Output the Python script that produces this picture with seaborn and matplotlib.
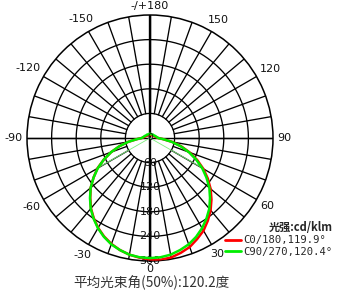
import numpy as np
import pandas as pd
import matplotlib
matplotlib.use("Agg")
import matplotlib.pyplot as plt
import seaborn as sns

# ---------------- data ----------------
angles = [-180, -170, -160, -150, -140, -130, -120, -110, -100,
          -90, -85, -80, -75, -70, -65, -60, -55, -50, -45, -40, -35, -30, -25, -20, -15, -10, -5,
          0, 5, 10, 15, 20, 25, 30, 35, 40, 45, 50, 55, 60, 65, 70, 75, 80, 85, 90,
          100, 110, 120, 130, 140, 150, 160, 170, 180]
red_c0_180 = [8, 8, 8, 8, 8, 9, 10, 12, 14,
              20, 32, 54, 77, 101, 124, 148, 168, 189, 206, 224, 239, 253, 265, 275, 283, 289, 293,
              296, 298, 296, 290, 283, 272, 261, 246, 230, 212, 193, 172, 150, 127, 103, 79, 55, 32, 20,
              14, 12, 10, 9, 8, 8, 8, 8, 8]
green_c90_270 = [10, 10, 10, 10, 11, 11, 12, 14, 16,
                 20, 32, 54, 77, 101, 124, 147, 168, 189, 207, 225, 240, 254, 266, 276, 283, 289, 292,
                 293, 292, 289, 283, 276, 266, 254, 240, 225, 207, 189, 168, 147, 124, 101, 77, 54, 32, 20,
                 16, 14, 12, 11, 11, 10, 10, 10, 10]
ring_values = [60, 120, 180, 240, 300]
angle_ticks = [0, 30, 60, 90, 120, 150, 180, -150, -120, -90, -60, -30]
angle_labels = ["0", "30", "60", "90", "120", "150", "-/+180", "-150", "-120", "-90", "-60", "-30"]
series_labels = ["C0/180,119.9°", "C90/270,120.4°"]
beam_half_angles = [-60.2, 60.2]
beam_intensity = 148
unit_title = "光强:cd/klm"
footer = "平均光束角(50%):120.2度"

# ---------------- figure ----------------
sns.set_style("white")
plt.rcParams['font.family'] = ['DejaVu Sans', 'Noto Sans CJK SC']

fig = plt.figure(figsize=(3.38, 2.99), dpi=100)
cx, cy, rad = 150 / 338, 1 - 138 / 299, 123
w, h = 2 * rad / 338, 2 * rad / 299
ax = fig.add_axes([cx - w / 2, cy - h / 2, w, h], projection='polar')
ax.set_theta_zero_location('S')
ax.set_theta_direction(1)
ax.set_ylim(0, 300)
ax.set_xticks([])
ax.set_yticks(ring_values[:-1])
ax.set_yticklabels([])
ax.grid(False)
ax.spines['polar'].set_color('black')
ax.spines['polar'].set_linewidth(1.1)
ax.set_facecolor('white')

# rings
th_full = np.linspace(0, 2 * np.pi, 361)
for v in ring_values[:-1]:
    ax.plot(th_full, np.full_like(th_full, v), color='black', lw=0.95, zorder=1)
# spokes every 10 deg from first ring outward
for a in range(-170, 181, 10):
    t = np.deg2rad(a)
    ax.plot([t, t], [ring_values[0], 300], color='black', lw=0.95, zorder=1)
# main axes lines through center
for a, lw in [(0, 1.7), (180, 1.7), (90, 1.0), (-90, 1.0)]:
    t = np.deg2rad(a)
    ax.plot([t, t], [0, 300], color='black', lw=lw, zorder=1)

# ring labels
for v in ring_values:
    ax.text(0, v, str(v), ha='center', va='center', fontsize=8, color='#111111', zorder=2)
ax.text(0, 0, "0", ha='center', va='center', fontsize=6.5, color='#111111', zorder=5)

# angle labels: placed just outside the outer ring (gap in pixels)
gap = 4.5
labels = []
for a, lab in zip(angle_ticks, angle_labels):
    t = ax.annotate(lab, xy=(np.deg2rad(a), 300), xytext=(0, 0), textcoords='offset pixels',
                    ha='center', va='center', fontsize=8, color='#111111',
                    annotation_clip=False)
    labels.append((a, t))
fig.canvas.draw()
rend = fig.canvas.get_renderer()
for a, t in labels:
    bb = t.get_window_extent(rend)
    tw, th = bb.width, bb.height * 0.8
    sx, sy = np.sin(np.deg2rad(a)), -np.cos(np.deg2rad(a))
    d = gap + tw / 2 * abs(sx) + th / 2 * abs(sy)
    t.set_position((d * sx, d * sy))

# curves
df = pd.DataFrame({
    "theta": np.deg2rad(angles * 2),
    "I": red_c0_180 + green_c90_270,
    "series": [series_labels[0]] * len(angles) + [series_labels[1]] * len(angles),
})
sns.lineplot(data=df, x="theta", y="I", hue="series", palette=["#ff0000", "#00ee00"],
             sort=False, estimator=None, lw=1.8, ax=ax, zorder=4)

# beam-angle lines
for a in beam_half_angles:
    t = np.deg2rad(a)
    ax.plot([t, t], [0, beam_intensity], color='#7fef7f', lw=0.6, zorder=3)

ax.set_xlabel("")
ax.set_ylabel("")

leg = ax.legend(title=unit_title, loc='upper right', bbox_to_anchor=(333 / 338, 1 - 221 / 299),
                bbox_transform=fig.transFigure, frameon=False, handlelength=1.5, handletextpad=0.3,
                labelspacing=0.12, borderpad=0, borderaxespad=0, alignment='right',
                prop={'family': ['DejaVu Sans Mono'], 'size': 7.6})
leg.get_title().set_fontproperties({'family': ['Noto Sans CJK SC', 'DejaVu Sans'],
                                    'size': 8, 'weight': 'bold'})
for line in leg.get_lines():
    line.set_linewidth(2)

fig.text(151.5 / 338, 1 - 283 / 299, footer, ha='center', va='center', fontsize=9.8,
         color='#333333', family=['Noto Sans CJK SC', 'DejaVu Sans'])

fig.savefig("out.png", dpi=100)
